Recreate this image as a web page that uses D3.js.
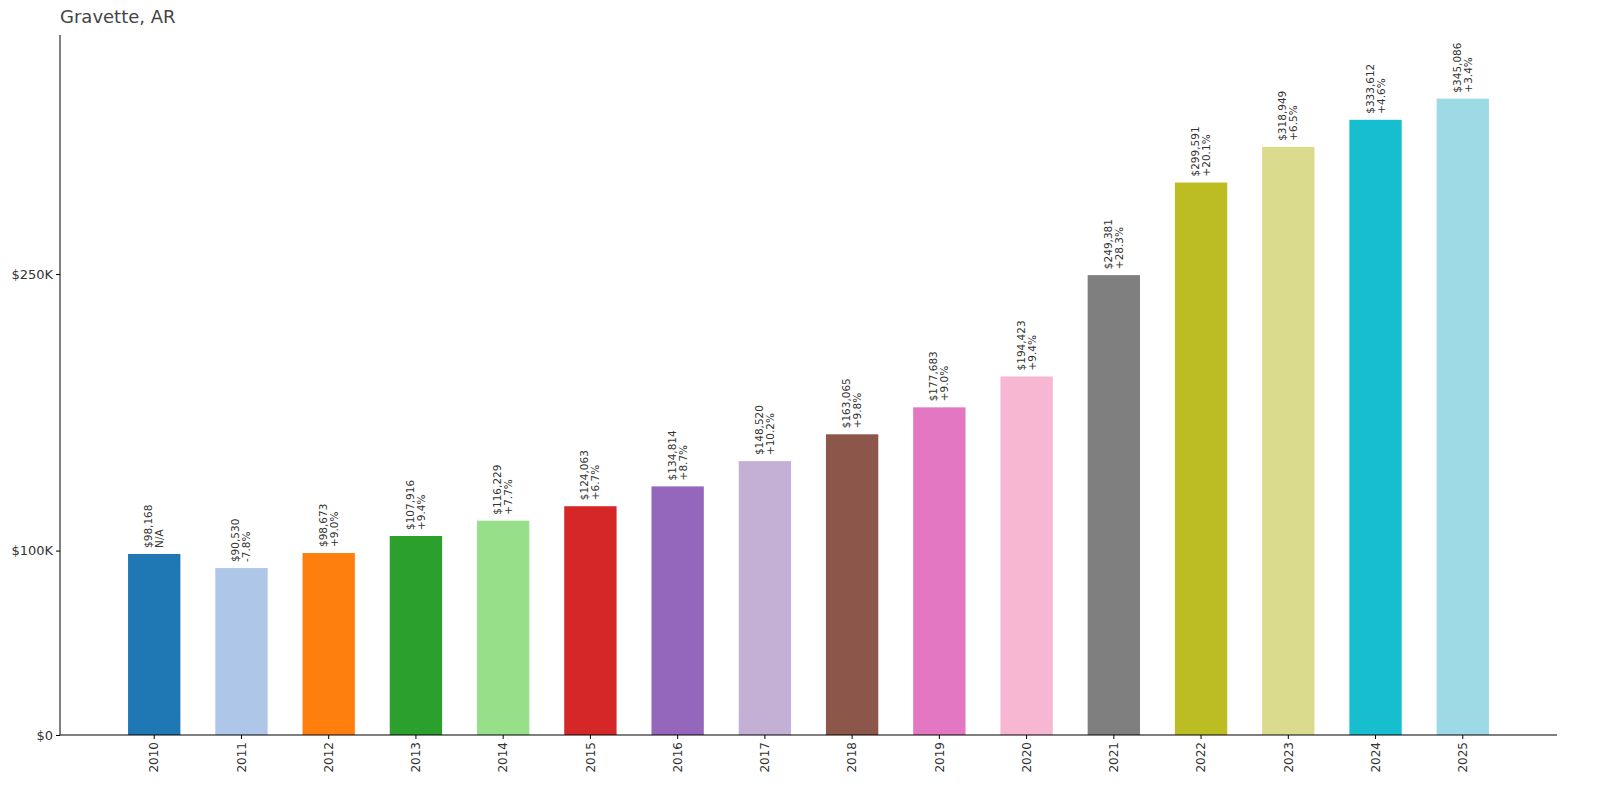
<!DOCTYPE html>
<html><head><meta charset="utf-8">
<script src="https://cdn.jsdelivr.net/npm/d3@7"></script>
<style>body{margin:0;background:#fff;font-family:"DejaVu Sans",sans-serif}</style>
</head><body><svg id="c" width="1600" height="795"></svg>
<script>
const years = ['2010','2011','2012','2013','2014','2015','2016','2017','2018','2019','2020','2021','2022','2023','2024','2025'];
const values = [98168,90530,98673,107916,116229,124063,134814,148520,163065,177683,194423,249381,299591,318949,333612,345086];
const changes = ['N/A','-7.8%','+9.0%','+9.4%','+7.7%','+6.7%','+8.7%','+10.2%','+9.8%','+9.0%','+9.4%','+28.3%','+20.1%','+6.5%','+4.6%','+3.4%'];
const colors = ['#1f77b4','#aec7e8','#ff7f0e','#2ca02c','#98df8a','#d62728','#9467bd','#c5b0d5','#8c564b','#e377c2','#f7b6d2','#7f7f7f','#bcbd22','#dbdb8d','#17becf','#9edae5'];
const yTicks = [0,100000,250000];
const yTickLabels = ['$0','$100K','$250K'];

const svg = d3.select('#c');
const x = d3.scaleBand().domain(years).range([60,1557]).paddingInner(0.4).paddingOuter(0.78);
const y = d3.scaleLinear().domain([0,379600]).range([735,35]);

svg.append('text').attr('x',60).attr('y',23).attr('font-size',18).attr('fill','#444').text('Gravette, AR');

svg.selectAll('rect.bar').data(years).join('rect').attr('class','bar')
  .attr('x',d=>x(d)).attr('width',x.bandwidth())
  .attr('y',(d,i)=>y(values[i])).attr('height',(d,i)=>y(0)-y(values[i]))
  .attr('fill',(d,i)=>colors[i]);

const lab = svg.selectAll('text.lab').data(years).join('text').attr('class','lab')
  .attr('transform',(d,i)=>`translate(${x(d)+x.bandwidth()/2},${y(values[i])-6}) rotate(-90)`)
  .attr('font-size',10.5).attr('fill','#333');
lab.append('tspan').attr('x',0).attr('y',-2).text((d,i)=>'$'+d3.format(',')(values[i]));
lab.append('tspan').attr('x',0).attr('y',9).text((d,i)=>changes[i]);

const ya = svg.append('g').attr('transform','translate(60,0)')
  .call(d3.axisLeft(y).tickValues(yTicks).tickFormat((d,i)=>yTickLabels[i]).tickSize(4));
ya.select('.domain').attr('d','M0,35V735');
ya.selectAll('text').attr('font-size',13).attr('fill','#333').attr('font-family','DejaVu Sans');

const xa = svg.append('g').attr('transform','translate(0,735)')
  .call(d3.axisBottom(x).tickSize(4));
xa.select('.domain').attr('d','M60,0H1557');
xa.selectAll('text').attr('font-size',12).attr('fill','#333').attr('font-family','DejaVu Sans')
  .attr('transform','rotate(-90)').attr('text-anchor','end').attr('x',-7).attr('y',0).attr('dy','0.35em');
</script></body></html>
